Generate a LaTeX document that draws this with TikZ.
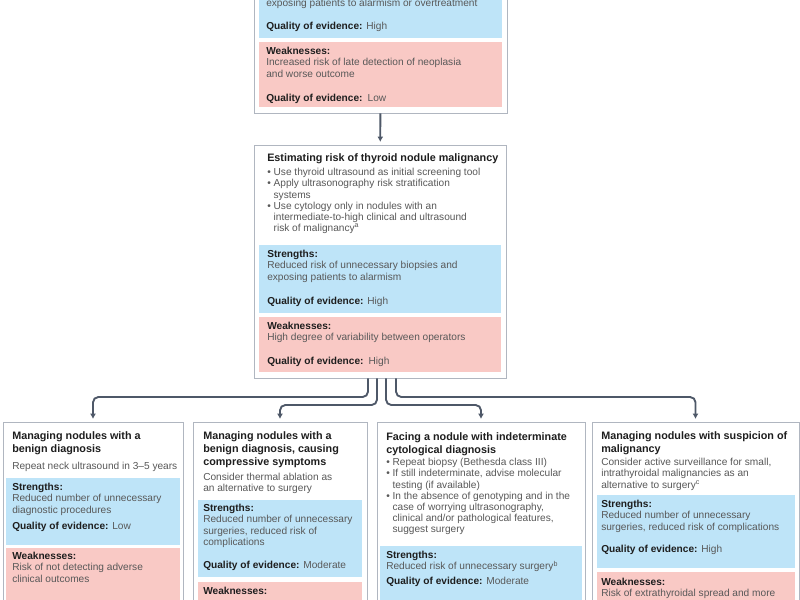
\documentclass[tikz,border=0pt]{standalone}
\usepackage{fontspec}
\setmainfont{Liberation Sans}
\usetikzlibrary{arrows.meta,calc,fit}

\definecolor{strongblue}{RGB}{190,228,248}
\definecolor{weakred}{RGB}{249,201,197}
\definecolor{cardline}{RGB}{176,182,192}
\definecolor{linkgray}{RGB}{78,88,104}
\definecolor{headgray}{RGB}{30,30,30}
\definecolor{bodygray}{RGB}{88,88,88}

\newcommand\cardbody{\fontsize{7.6}{8.4}\selectfont}
\newcommand\cardtitle{\fontsize{8.1}{9.75}\selectfont\bfseries}
\newcommand\hd[1]{{\color{headgray}\bfseries #1}}
\newcommand\bul{\textbullet\ }
\newcommand\hang{\hphantom{\textbullet\ }}

\begin{document}
\begin{tikzpicture}[x=0.75pt,y=-0.75pt,
  card/.style = {draw=cardline, fill=white, line width=0.6pt, inner sep=0pt},
  strong/.style = {fill=strongblue, inner sep=0pt},
  weak/.style = {fill=weakred, inner sep=0pt},
  title/.style = {anchor=north west, inner sep=0pt, align=left, font=\cardtitle, text=headgray},
  body/.style = {anchor=north west, inner sep=0pt, align=left, font=\cardbody, text=bodygray},
  link/.style = {draw=linkgray, line width=1.4pt, rounded corners=4pt,
    -{Latex[length=4pt,width=4.5pt]}, shorten >=2pt},
  ]
  \useasboundingbox (0,0) rectangle (800,600);
  \clip (0,0) rectangle (800,600);
  \fill[white] (0,0) rectangle (800,600);

  % top card (cut by the upper edge)
  \node[card, fit={(254,-20) (507,113)}] (topcard) {};
  \node[strong, fit={(259,-20) (502,38)}] (topS) {};
  \node[weak, fit={(259,42) (502,107)}] (topW) {};
  \node[body] (topStxt) at (266,-1) {exposing patients to alarmism or overtreatment};
  \node[body] (topSq) at (266,22) {\hd{Quality of evidence:} High};
  \node[body] (topWtxt) at (266,47) {\hd{Weaknesses:}\\Increased risk of late detection of neoplasia\\and worse outcome};
  \node[body] (topWq) at (266,94) {\hd{Quality of evidence:}\enspace Low};

  % middle card
  \node[card, fit={(254,145) (506,378)}] (midcard) {};
  \node[strong, fit={(259,245) (501,313)}] (midS) {};
  \node[weak, fit={(259,317) (501,372)}] (midW) {};
  \node[title] (midtitle) at (267,153) {Estimating risk of thyroid nodule malignancy};
  \node[body] (midlist) at (267,168) {\bul Use thyroid ultrasound as initial screening tool\\
    \bul Apply ultrasonography risk stratification\\\hang systems\\
    \bul Use cytology only in nodules with an\\\hang intermediate-to-high clinical and ultrasound\\\hang risk of malignancy\textsuperscript{a}};
  \node[body] (midStxt) at (267,250) {\hd{Strengths:}\\Reduced risk of unnecessary biopsies and\\exposing patients to alarmism};
  \node[body] (midSq) at (267,297) {\hd{Quality of evidence:} High};
  \node[body] (midWtxt) at (267,322) {\hd{Weaknesses:}\\High degree of variability between operators};
  \node[body] (midWq) at (267,357) {\hd{Quality of evidence:}\enspace High};

  % bottom cards (cut by the lower edge)
  \node[card, fit={(3,422) (183,620)}] (b1card) {};
  \node[strong, fit={(6,478) (180,545)}] (b1S) {};
  \node[weak, fit={(6,548) (180,620)}] (b1W) {};
  \node[title] (b1title) at (12,431) {Managing nodules with a\\benign diagnosis};
  \node[body] (b1txt) at (12,462) {Repeat neck ultrasound in 3--5 years};
  \node[body] (b1Stxt) at (12,483) {\hd{Strengths:}\\Reduced number of unnecessary\\diagnostic procedures};
  \node[body] (b1Sq) at (12,522) {\hd{Quality of evidence:} Low};
  \node[body] (b1Wtxt) at (12,552) {\hd{Weaknesses:}\\Risk of not detecting adverse\\clinical outcomes};

  \node[card, fit={(193,422) (367,620)}] (b2card) {};
  \node[strong, fit={(198,500) (362,577)}] (b2S) {};
  \node[weak, fit={(198,582) (362,620)}] (b2W) {};
  \node[title] (b2title) at (203,431) {Managing nodules with a\\benign diagnosis, causing\\compressive symptoms};
  \node[body] (b2txt) at (203,473) {Consider thermal ablation as\\an alternative to surgery};
  \node[body] (b2Stxt) at (203,504) {\hd{Strengths:}\\Reduced number of unnecessary\\surgeries, reduced risk of\\complications};
  \node[body] (b2Sq) at (203,561) {\hd{Quality of evidence:} Moderate};
  \node[body] (b2Wtxt) at (203,587) {\hd{Weaknesses:}};

  \node[card, fit={(377,422) (585,620)}] (b3card) {};
  \node[strong, fit={(380,546) (582,620)}] (b3S) {};
  \node[title] (b3title) at (386,432) {Facing a nodule with indeterminate\\cytological diagnosis};
  \node[body] (b3list) at (386,458) {\bul Repeat biopsy (Bethesda class III)\\
    \bul If still indeterminate, advise molecular\\\hang testing (if available)\\
    \bul In the absence of genotyping and in the\\\hang case of worrying ultrasonography,\\\hang clinical and/or pathological features,\\\hang suggest surgery};
  \node[body] (b3Stxt) at (386,551) {\hd{Strengths:}\\Reduced risk of unnecessary surgery\textsuperscript{b}};
  \node[body] (b3Sq) at (386,577) {\hd{Quality of evidence:} Moderate};

  \node[card, fit={(592,422) (799,620)}] (b4card) {};
  \node[strong, fit={(597,495) (795,568)}] (b4S) {};
  \node[weak, fit={(597,572) (795,620)}] (b4W) {};
  \node[title] (b4title) at (601,431) {Managing nodules with suspicion of\\malignancy};
  \node[body] (b4txt) at (601,458) {Consider active surveillance for small,\\intrathyroidal malignancies as an\\alternative to surgery\textsuperscript{c}};
  \node[body] (b4Stxt) at (601,500) {\hd{Strengths:}\\Reduced number of unnecessary\\surgeries, reduced risk of complications};
  \node[body] (b4Sq) at (601,545) {\hd{Quality of evidence:} High};
  \node[body] (b4Wtxt) at (601,578) {\hd{Weaknesses:}\\Risk of extrathyroidal spread and more};

  % connectors
  \draw[link] (topcard) -- (midcard);
  \coordinate (outer) at (0,397);
  \coordinate (inner) at (0,405);
  \draw[link] ($(midcard.south)+(-12,0)$) |- (outer -| b1card.north) -- (b1card.north);
  \draw[link] ($(midcard.south)+(-3,0)$) |- (inner -| b2card.north) -- (b2card.north);
  \draw[link] ($(midcard.south)+(6,0)$) |- (inner -| b3card.north) -- (b3card.north);
  \draw[link] ($(midcard.south)+(16,0)$) |- (outer -| b4card.north) -- (b4card.north);

\end{tikzpicture}
\end{document}
